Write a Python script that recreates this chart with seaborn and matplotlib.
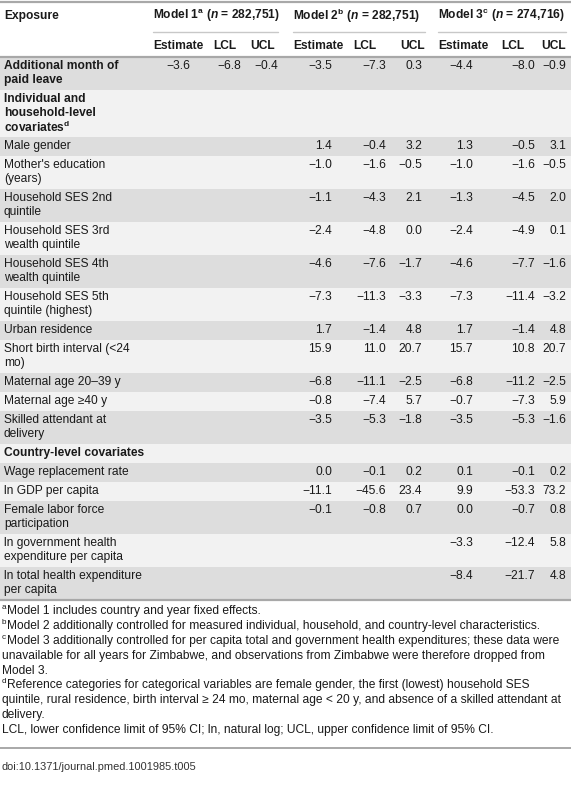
import numpy as np
import matplotlib
matplotlib.use("Agg")
import matplotlib.pyplot as plt
import seaborn as sns

# ---- table content ----
row_labels = [
    "Additional month of\npaid leave",
    "Individual and\nhousehold-level\ncovariates$^{\\mathregular{d}}$",
    "Male gender",
    "Mother's education\n(years)",
    "Household SES 2nd\nquintile",
    "Household SES 3rd\nwealth quintile",
    "Household SES 4th\nwealth quintile",
    "Household SES 5th\nquintile (highest)",
    "Urban residence",
    "Short birth interval (<24\nmo)",
    "Maternal age 20\u201339 y",
    "Maternal age \u226540 y",
    "Skilled attendant at\ndelivery",
    "Country-level covariates",
    "Wage replacement rate",
    "ln GDP per capita",
    "Female labor force\nparticipation",
    "ln government health\nexpenditure per capita",
    "ln total health expenditure\nper capita",
]
bold_rows = [0, 1, 13]

m1_est = [-3.6] + [None] * 18
m1_lcl = [-6.8] + [None] * 18
m1_ucl = [-0.4] + [None] * 18

m2_est = [-3.5, None, 1.4, -1.0, -1.1, -2.4, -4.6, -7.3, 1.7, 15.9, -6.8, -0.8, -3.5,
          None, 0.0, -11.1, -0.1, None, None]
m2_lcl = [-7.3, None, -0.4, -1.6, -4.3, -4.8, -7.6, -11.3, -1.4, 11.0, -11.1, -7.4, -5.3,
          None, -0.1, -45.6, -0.8, None, None]
m2_ucl = [0.3, None, 3.2, -0.5, 2.1, 0.0, -1.7, -3.3, 4.8, 20.7, -2.5, 5.7, -1.8,
          None, 0.2, 23.4, 0.7, None, None]

m3_est = [-4.4, None, 1.3, -1.0, -1.3, -2.4, -4.6, -7.3, 1.7, 15.7, -6.8, -0.7, -3.5,
          None, 0.1, 9.9, 0.0, -3.3, -8.4]
m3_lcl = [-8.0, None, -0.5, -1.6, -4.5, -4.9, -7.7, -11.4, -1.4, 10.8, -11.2, -7.3, -5.3,
          None, -0.1, -53.3, -0.7, -12.4, -21.7]
m3_ucl = [-0.9, None, 3.1, -0.5, 2.0, 0.1, -1.6, -3.2, 4.8, 20.7, -2.5, 5.9, -1.6,
          None, 0.2, 73.2, 0.8, 5.8, 4.8]

model_titles = [
    "Model 1$^{\\mathbf{a}}$ ($\\mathbfit{n}$ = 282,751)",
    "Model 2$^{\\mathbf{b}}$ ($\\mathbfit{n}$ = 282,751)",
    "Model 3$^{\\mathbf{c}}$ ($\\mathbfit{n}$ = 274,716)",
]
sub_headers = ["Estimate", "LCL", "UCL"]

# (superscript mark, text)
footnotes = [
    ("a", "Model 1 includes country and year fixed effects."),
    ("b", "Model 2 additionally controlled for measured individual, household, and country-level characteristics."),
    ("c", "Model 3 additionally controlled for per capita total and government health expenditures; these data were"),
    ("", "unavailable for all years for Zimbabwe, and observations from Zimbabwe were therefore dropped from"),
    ("", "Model 3."),
    ("d", "Reference categories for categorical variables are female gender, the first (lowest) household SES"),
    ("", "quintile, rural residence, birth interval \u2265 24 mo, maternal age < 20 y, and absence of a skilled attendant at"),
    ("", "delivery."),
    ("", "LCL, lower confidence limit of 95% CI; ln, natural log; UCL, upper confidence limit of 95% CI."),
]
doi_text = "doi:10.1371/journal.pmed.1001985.t005"

# ---- style ----
sns.set_theme(style="white")
plt.rcParams["font.family"] = ["Liberation Sans", "DejaVu Sans"]
plt.rcParams["mathtext.fontset"] = "custom"
plt.rcParams["mathtext.rm"] = "Liberation Sans"
plt.rcParams["mathtext.it"] = "Liberation Sans:italic"
plt.rcParams["mathtext.bf"] = "Liberation Sans:bold"
plt.rcParams["mathtext.bfit"] = "Liberation Sans:italic:bold"

W, H = 571, 800
FS = 12 * 0.72          # 12 px text at 100 dpi
TXT = "#1a1a1a"
SHADE = "#dddddd"
LIGHT = "#f2f2f2"
RULE = "#a8a8a8"

fig = plt.figure(figsize=(W / 100, H / 100), dpi=100)
ax = fig.add_axes([0, 0, 1, 1])
ax.set_xlim(0, W)
ax.set_ylim(H, 0)
ax.axis("off")

# column layout (right edges for numbers, left edges for headers)
num_right = [190, 241, 278, 332, 386, 422, 473, 535, 566]
sub_left = [153, 213, 250, 293, 353, 400, 438, 501, 541]
model_span = [(153, 278), (293, 425), (438, 566)]
columns = [m1_est, m1_lcl, m1_ucl, m2_est, m2_lcl, m2_ucl, m3_est, m3_lcl, m3_ucl]


def fmt(v):
    return f"{v:.1f}".replace("-", "\u2212")


# ---- header ----
ax.axhline(2, color=RULE, lw=1.6)
ax.text(4, 16, "Exposure", fontsize=FS, fontweight="bold", color=TXT, va="center")
for (x0, x1), title in zip(model_span, model_titles):
    ax.text(x0, 16, title, fontsize=FS, fontweight="bold", color=TXT, va="center")
    ax.plot([x0, x1], [32, 32], color="#c8c8c8", lw=1.0)
for i, xl in enumerate(sub_left):
    ax.text(xl, 46, sub_headers[i % 3], fontsize=FS, fontweight="bold", color=TXT, va="center")

# ---- body ----
PAD, LINE = 5, 14
y = 57
for r, lab in enumerate(row_labels):
    lines = lab.split("\n")
    h = PAD + LINE * len(lines)
    ax.axhspan(y, y + h, color=SHADE if r % 2 == 0 else LIGHT, lw=0, zorder=0)
    weight = "bold" if r in bold_rows else "normal"
    for k, ln in enumerate(lines):
        ax.text(4, y + 9.3 + LINE * k, ln, fontsize=FS, fontweight=weight,
                color=TXT, va="center")
    for c, col in enumerate(columns):
        if col[r] is not None:
            ax.text(num_right[c], y + 9.3, fmt(col[r]), fontsize=FS,
                    color=TXT, va="center", ha="right")
    y += h

ax.axhline(57, color=RULE, lw=1.6, zorder=3)
ax.axhline(y, color=RULE, lw=1.6, zorder=3)

# ---- footnotes ----
fy = y + 11
for mark, note in footnotes:
    if mark:
        ax.text(2, fy - 3.5, mark, fontsize=FS * 0.68, color=TXT, va="center")
        ax.text(7, fy, note, fontsize=FS, color=TXT, va="center")
    else:
        ax.text(2, fy, note, fontsize=FS, color=TXT, va="center")
    fy += 14.9

ax.axhline(748, color=RULE, lw=1.4)
ax.text(2, 767, doi_text, fontsize=FS * 0.92, color="#333333", va="center")

fig.savefig("out.png", dpi=100)
